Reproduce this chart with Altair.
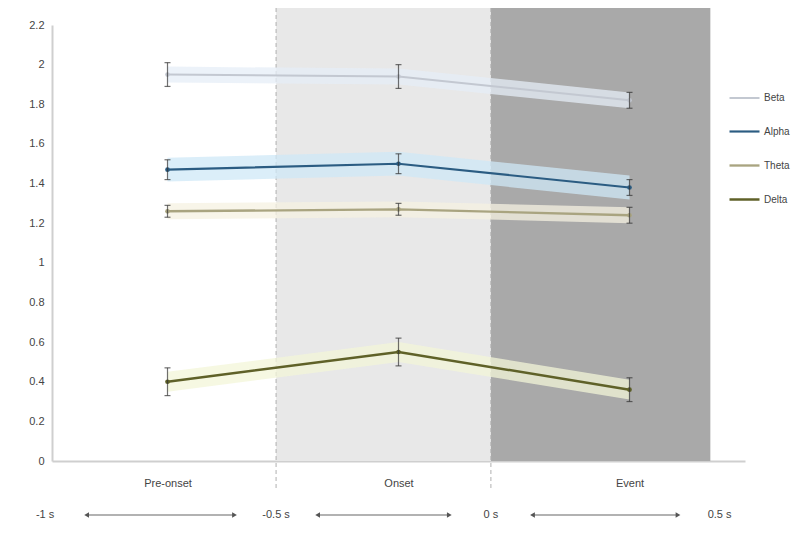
import altair as alt
import pandas as pd

# ---- data ----
phases = ["Pre-onset", "Onset", "Event"]
phase_pos = [0, 1, 2]
series = ["Beta", "Alpha", "Theta", "Delta"]
beta = [1.95, 1.94, 1.82]
alpha = [1.47, 1.50, 1.38]
theta = [1.26, 1.27, 1.24]
delta = [0.40, 0.55, 0.36]
beta_err = [0.06, 0.06, 0.04]
alpha_err = [0.05, 0.05, 0.04]
theta_err = [0.03, 0.03, 0.04]
delta_err = [0.07, 0.07, 0.06]
band_half = [0.04, 0.06, 0.04, 0.05]

line_colors = ["#c3c8d1", "#2b5c82", "#a9a480", "#5f6128"]
band_colors = ["#e6eef7", "#cfe8f7", "#f5f1e2", "#f3f5d8"]

# time windows (in x units) and timeline labels
bounds = [-0.53, 0.47, 1.40, 2.39]
time_labels = ["-1 s", "-0.5 s", "0 s", "0.5 s"]
shade_start = [0.47, 1.40]
shade_end = [1.40, 2.35]
shade_colors = ["#e8e8e8", "#a9a9a9"]
y_ticks = [0, 0.2, 0.4, 0.6, 0.8, 1.0, 1.2, 1.4, 1.6, 1.8, 2.0, 2.2]

W, H = 693, 436

values = {"Beta": beta, "Alpha": alpha, "Theta": theta, "Delta": delta}
errs = {"Beta": beta_err, "Alpha": alpha_err, "Theta": theta_err, "Delta": delta_err}
rows = []
for si, s in enumerate(series):
    for i, p in enumerate(phases):
        v = values[s][i]
        e = errs[s][i]
        rows.append({"series": s, "phase": p, "x": phase_pos[i], "value": v,
                     "lo": v - e, "hi": v + e,
                     "blo": v - band_half[si], "bhi": v + band_half[si]})
df = pd.DataFrame(rows)

xscale = alt.Scale(domain=[-0.5, 2.5], nice=False, zero=False)
yscale = alt.Scale(domain=[0, 2.2], nice=False)
color_scale = alt.Scale(domain=series, range=line_colors)
band_scale = alt.Scale(domain=series, range=band_colors)

label_expr = "datum.value == 0 ? 'Pre-onset' : datum.value == 1 ? 'Onset' : 'Event'"
xaxis = alt.Axis(values=phase_pos, labelExpr=label_expr, ticks=False, grid=False,
                 domainColor="#cfcfcf", domainWidth=2, labelColor="#444", title=None,
                 labelFontSize=11, labelPadding=16, labelFont="Liberation Sans")
yaxis = alt.Axis(values=y_ticks, format="~g", ticks=False, grid=False, title=None,
                 domainColor="#cfcfcf", domainWidth=2, labelColor="#444",
                 labelFontSize=11, labelPadding=8, labelFont="Liberation Sans")


def X(field):
    return alt.X(field, scale=xscale, axis=xaxis, title=None)


def Y(field):
    return alt.Y(field, scale=yscale, axis=yaxis, title=None)


shade_df = pd.DataFrame({"x0": shade_start, "x1": shade_end, "c": shade_colors})
shades = alt.Chart(shade_df).mark_rect().encode(
    x=X("x0:Q"), x2="x1:Q",
    y=alt.value(-17), y2=alt.value(H),
    color=alt.Color("c:N", scale=None, legend=None),
)

dash_df = pd.DataFrame({"x": bounds[1:3]})
dashes = alt.Chart(dash_df).mark_rule(color="#b0b0b0", strokeDash=[4, 3], strokeWidth=1).encode(
    x=X("x:Q"), y=alt.value(-17), y2=alt.value(H + 30),
)

bands = alt.Chart(df).mark_area(opacity=0.75).encode(
    x=X("x:Q"), y=Y("blo:Q"), y2="bhi:Q",
    color=alt.Color("series:N", scale=band_scale, legend=None),
    detail="series:N",
)

lines = alt.Chart(df).mark_line().encode(
    x=X("x:Q"), y=Y("value:Q"),
    color=alt.Color("series:N", scale=color_scale, sort=series,
                    legend=alt.Legend(title=None, orient="none", legendX=676, legendY=57,
                                      symbolType="stroke", symbolStrokeWidth=2, symbolSize=900,
                                      labelFontSize=10, labelColor="#444", rowPadding=12,
                                      labelOffset=3, labelFont="Liberation Sans")),
    strokeWidth=alt.StrokeWidth("series:N", scale=alt.Scale(domain=series, range=[2, 2.5, 1.5, 2]), legend=None),
)

points = alt.Chart(df).mark_point(filled=True, size=22, opacity=1).encode(
    x=X("x:Q"), y=Y("value:Q"),
    color=alt.Color("series:N", scale=color_scale, legend=None),
)

err_rules = alt.Chart(df).mark_rule(color="#333", strokeWidth=1.2, opacity=0.7).encode(
    x=X("x:Q"), y=Y("lo:Q"), y2="hi:Q",
)
caps_hi = alt.Chart(df).mark_tick(color="#333", thickness=1.2, size=6, orient="horizontal").encode(
    x=X("x:Q"), y=Y("hi:Q"),
)
caps_lo = alt.Chart(df).mark_tick(color="#333", thickness=1.2, size=6, orient="horizontal").encode(
    x=X("x:Q"), y=Y("lo:Q"),
)

# ---- timeline at the bottom ----
TY = 490
tl_df = pd.DataFrame({"x": bounds, "label": time_labels})
tl_text = alt.Chart(tl_df).mark_text(fontSize=11, color="#444", font="Liberation Sans").encode(
    x=X("x:Q"), y=alt.value(TY), text="label:N",
)
gap = 0.18
seg_df = pd.DataFrame({"s": [b + gap for b in bounds[:-1]], "e": [b - gap for b in bounds[1:]]})
tl_rules = alt.Chart(seg_df).mark_rule(color="#666", strokeWidth=1.2).encode(
    x=X("s:Q"), x2="e:Q", y=alt.value(TY),
)
tl_left = alt.Chart(seg_df).mark_point(shape="triangle-left", filled=True, size=30, color="#555", opacity=1).encode(
    x=X("s:Q"), y=alt.value(TY),
)
tl_right = alt.Chart(seg_df).mark_point(shape="triangle-right", filled=True, size=30, color="#555", opacity=1).encode(
    x=X("e:Q"), y=alt.value(TY),
)

chart = alt.layer(
    shades, dashes, bands, lines, points, err_rules, caps_hi, caps_lo,
    tl_rules, tl_left, tl_right, tl_text,
).resolve_scale(color="independent", strokeWidth="independent").properties(
    width=W, height=H,
    autosize=alt.AutoSizeParams(type="none"),
    padding={"left": 44, "top": 17, "right": 48, "bottom": 62},
).configure(background="white").configure_view(stroke=None)

chart.save("out.html", embed_options={"renderer": "svg", "actions": False})
